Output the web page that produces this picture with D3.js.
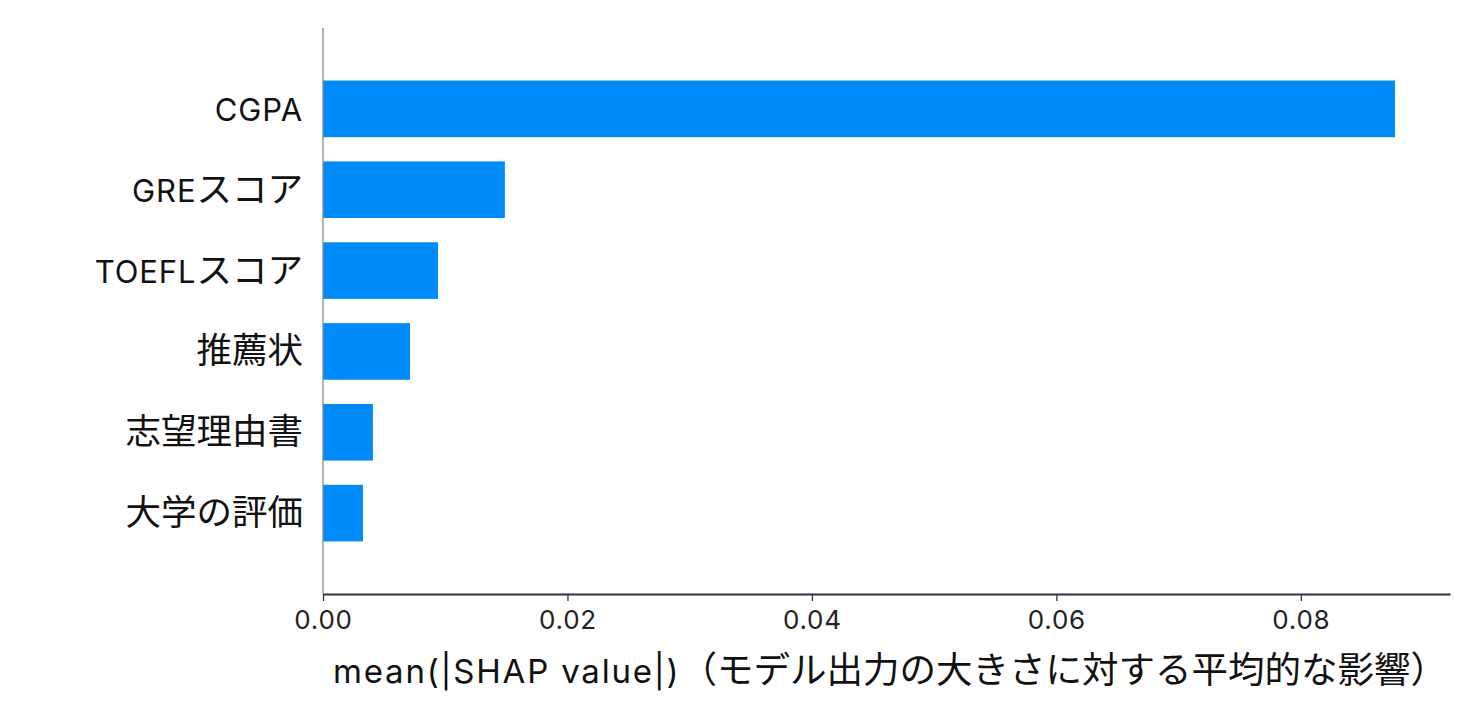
<!doctype html>
<html>
<head>
<meta charset="utf-8">
<script src="https://cdnjs.cloudflare.com/ajax/libs/d3/7.8.5/d3.min.js"></script>
<style>
  body { margin: 0; background: #fff; }
  svg { display: block; }
</style>
</head>
<body>
<svg id="chart" width="1477" height="720"></svg>
<script>
// features, top to bottom, and their mean |SHAP| values
var features = ["CGPA", "GREスコア", "TOEFLスコア", "推薦状", "志望理由書", "大学の評価"];
var meanShap = [0.0877, 0.01488, 0.00941, 0.00712, 0.00408, 0.00327];
var xTicks = [0, 0.02, 0.04, 0.06, 0.08];
var xLabel = "mean(|SHAP value|)（モデル出力の大きさに対する平均的な影響）";

var latinFont = "Inter, 'Noto Sans', sans-serif";
var cjkFont = "'Noto Sans CJK JP', sans-serif";

var svg = d3.select("#chart");
var plotL = 323, plotR = 1450, plotT = 28, plotB = 594;

var x = d3.scaleLinear().domain([0, 0.0922]).range([plotL, plotR]);
var y = d3.scalePoint().domain(features).range([plotT, plotB]).padding(1);
var barH = y.step() * 0.7;

// split a string into ascii / non-ascii runs so each gets its own font
function runs(s) {
  var out = [];
  Array.from(s).forEach(function(ch) {
    var cjk = ch.charCodeAt(0) > 255;
    if (out.length && out[out.length - 1].cjk === cjk) out[out.length - 1].t += ch;
    else out.push({t: ch, cjk: cjk});
  });
  return out;
}

function fillRuns(textSel, s, latinSize, cjkSize, spacing) {
  textSel.selectAll("tspan").data(runs(s)).enter().append("tspan")
    .attr("font-family", d => d.cjk ? cjkFont : latinFont)
    .attr("font-size", d => d.cjk ? cjkSize : latinSize)
    .attr("letter-spacing", d => d.cjk ? 0 : spacing)
    .text(d => d.t);
}

// bars
svg.selectAll("rect.bar")
  .data(features)
  .enter()
  .append("rect")
  .attr("class", "bar")
  .attr("x", x(0))
  .attr("y", d => y(d) - barH / 2)
  .attr("width", (d, i) => x(meanShap[i]) - x(0))
  .attr("height", barH)
  .attr("fill", "#008bfb");

// y axis line
svg.append("line")
  .attr("x1", plotL).attr("x2", plotL)
  .attr("y1", plotT).attr("y2", plotB)
  .attr("stroke", "#8a8a8a")
  .attr("stroke-width", 1.3);

// feature labels
features.forEach(function(f) {
  var t = svg.append("text")
    .attr("x", plotL - 20)
    .attr("y", y(f) + 12)
    .attr("text-anchor", "end")
    .attr("fill", "#111");
  fillRuns(t, f, 31, 35.5, 0.9);
});

// x axis
var xAxis = svg.append("g")
  .attr("transform", "translate(0," + plotB + ")")
  .call(d3.axisBottom(x).tickValues(xTicks).tickFormat(d3.format(".2f")).tickSize(7).tickSizeOuter(0).tickPadding(10));
xAxis.select(".domain").attr("stroke", "#2b3440").attr("stroke-width", 2);
xAxis.selectAll(".tick line").attr("stroke", "#2b3440").attr("stroke-width", 1.3);
xAxis.selectAll(".tick text")
  .attr("font-family", latinFont)
  .attr("font-size", 26)
  .attr("letter-spacing", 0.8)
  .attr("fill", "#222");

var lbl = svg.append("text")
  .attr("x", 333)
  .attr("y", 683)
  .attr("text-anchor", "start")
  .attr("fill", "#111");
fillRuns(lbl, xLabel, 33, 36.5, 1.8);
</script>
</body>
</html>
